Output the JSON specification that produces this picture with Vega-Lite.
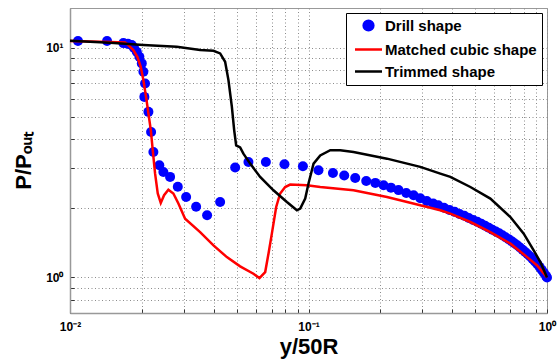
{
  "$schema": "https://vega.github.io/schema/vega-lite/v6.json",
  "width": 477,
  "height": 305,
  "autosize": {"type": "none"},
  "padding": {"left": 70, "top": 8, "right": 13, "bottom": 46},
  "background": "white",
  "datasets": {
    "drill": [
      {"x": 0.0108, "y": 10.7}, {"x": 0.0143, "y": 10.7}, {"x": 0.01674, "y": 10.48}, {"x": 0.0175, "y": 10.4},
      {"x": 0.01815, "y": 10.27}, {"x": 0.01856, "y": 9.97}, {"x": 0.01905, "y": 9.61}, {"x": 0.01954, "y": 9.14},
      {"x": 0.02, "y": 8.55}, {"x": 0.02031, "y": 7.86}, {"x": 0.02064, "y": 6.99}, {"x": 0.0205, "y": 6.11},
      {"x": 0.02132, "y": 5.26}, {"x": 0.02188, "y": 4.3}, {"x": 0.02237, "y": 3.52}, {"x": 0.02369, "y": 3.08},
      {"x": 0.02463, "y": 2.88}, {"x": 0.02628, "y": 2.74}, {"x": 0.02831, "y": 2.48}, {"x": 0.03068, "y": 2.24},
      {"x": 0.03379, "y": 2.03}, {"x": 0.03757, "y": 1.864}, {"x": 0.04261, "y": 2.13}, {"x": 0.04926, "y": 3.01},
      {"x": 0.05599, "y": 3.18}, {"x": 0.06627, "y": 3.18}, {"x": 0.07929, "y": 3.11}, {"x": 0.09474, "y": 3.05},
      {"x": 0.1101, "y": 2.93}, {"x": 0.1266, "y": 2.85}, {"x": 0.1412, "y": 2.78}, {"x": 0.157, "y": 2.71},
      {"x": 0.1746, "y": 2.63}, {"x": 0.1906, "y": 2.58}, {"x": 0.2064, "y": 2.52}, {"x": 0.2217, "y": 2.46},
      {"x": 0.2385, "y": 2.4}, {"x": 0.257, "y": 2.33}, {"x": 0.2758, "y": 2.28}, {"x": 0.2942, "y": 2.21},
      {"x": 0.3133, "y": 2.15}, {"x": 0.3333, "y": 2.1}, {"x": 0.35, "y": 2.06}, {"x": 0.37, "y": 2.01},
      {"x": 0.39, "y": 1.965}, {"x": 0.41, "y": 1.93}, {"x": 0.43, "y": 1.89}, {"x": 0.45, "y": 1.855},
      {"x": 0.47, "y": 1.816}, {"x": 0.49, "y": 1.78}, {"x": 0.51, "y": 1.748}, {"x": 0.53, "y": 1.714},
      {"x": 0.55, "y": 1.68}, {"x": 0.57, "y": 1.646}, {"x": 0.59, "y": 1.614}, {"x": 0.61, "y": 1.585},
      {"x": 0.63, "y": 1.556}, {"x": 0.65, "y": 1.526}, {"x": 0.67, "y": 1.497}, {"x": 0.69, "y": 1.468},
      {"x": 0.71, "y": 1.439}, {"x": 0.73, "y": 1.409}, {"x": 0.75, "y": 1.38}, {"x": 0.77, "y": 1.35},
      {"x": 0.79, "y": 1.32}, {"x": 0.81, "y": 1.291}, {"x": 0.83, "y": 1.262}, {"x": 0.85, "y": 1.233},
      {"x": 0.87, "y": 1.203}, {"x": 0.89, "y": 1.174}, {"x": 0.91, "y": 1.145}, {"x": 0.93, "y": 1.113},
      {"x": 0.95, "y": 1.08}, {"x": 0.97, "y": 1.048}, {"x": 0.99, "y": 1.016}, {"x": 1.0, "y": 1.0}
    ],
    "cubic": [
      {"x": 0.01, "y": 10.7}, {"x": 0.01472, "y": 10.6}, {"x": 0.01702, "y": 10.55}, {"x": 0.01757, "y": 10.27},
      {"x": 0.01843, "y": 9.77}, {"x": 0.01916, "y": 9.14}, {"x": 0.0198, "y": 8.26}, {"x": 0.02031, "y": 7.23},
      {"x": 0.02084, "y": 6.11}, {"x": 0.02132, "y": 5.18}, {"x": 0.02182, "y": 4.38}, {"x": 0.02223, "y": 3.58},
      {"x": 0.02274, "y": 2.83}, {"x": 0.02333, "y": 2.32}, {"x": 0.02402, "y": 2.11}, {"x": 0.0248, "y": 2.28},
      {"x": 0.02585, "y": 2.41}, {"x": 0.02713, "y": 2.32}, {"x": 0.02848, "y": 2.1}, {"x": 0.03038, "y": 1.803},
      {"x": 0.03512, "y": 1.576}, {"x": 0.03995, "y": 1.379}, {"x": 0.04546, "y": 1.226}, {"x": 0.05168, "y": 1.117},
      {"x": 0.05877, "y": 1.038}, {"x": 0.06228, "y": 0.993}, {"x": 0.06583, "y": 1.055}, {"x": 0.06795, "y": 1.269},
      {"x": 0.0702, "y": 1.551}, {"x": 0.0732, "y": 2.026}, {"x": 0.07606, "y": 2.32}, {"x": 0.07983, "y": 2.476},
      {"x": 0.08379, "y": 2.537}, {"x": 0.09847, "y": 2.519}, {"x": 0.112, "y": 2.476}, {"x": 0.1544, "y": 2.395},
      {"x": 0.2133, "y": 2.24}, {"x": 0.2942, "y": 2.061}, {"x": 0.357, "y": 1.96}, {"x": 0.3932, "y": 1.896},
      {"x": 0.4772, "y": 1.743}, {"x": 0.5787, "y": 1.576}, {"x": 0.7022, "y": 1.403}, {"x": 0.8251, "y": 1.226},
      {"x": 0.9089, "y": 1.128}, {"x": 1.0, "y": 1.0}
    ],
    "trim": [
      {"x": 0.01, "y": 10.73}, {"x": 0.01472, "y": 10.51}, {"x": 0.02031, "y": 10.27}, {"x": 0.02804, "y": 10.1},
      {"x": 0.03512, "y": 9.77}, {"x": 0.03995, "y": 9.7}, {"x": 0.04261, "y": 9.45}, {"x": 0.04471, "y": 8.69},
      {"x": 0.04617, "y": 7.23}, {"x": 0.04772, "y": 5.53}, {"x": 0.04879, "y": 4.38}, {"x": 0.04974, "y": 3.76},
      {"x": 0.05168, "y": 3.68}, {"x": 0.05334, "y": 3.46}, {"x": 0.05693, "y": 3.13}, {"x": 0.0627, "y": 2.74},
      {"x": 0.0713, "y": 2.395}, {"x": 0.08116, "y": 2.13}, {"x": 0.08939, "y": 1.96}, {"x": 0.09231, "y": 1.993},
      {"x": 0.09687, "y": 2.204}, {"x": 0.1, "y": 2.563}, {"x": 0.105, "y": 3.13}, {"x": 0.112, "y": 3.4},
      {"x": 0.1234, "y": 3.58}, {"x": 0.1358, "y": 3.58}, {"x": 0.1544, "y": 3.52}, {"x": 0.2133, "y": 3.29},
      {"x": 0.2942, "y": 3.03}, {"x": 0.357, "y": 2.83}, {"x": 0.3932, "y": 2.74}, {"x": 0.4772, "y": 2.476},
      {"x": 0.5787, "y": 2.204}, {"x": 0.7022, "y": 1.832}, {"x": 0.7986, "y": 1.551}, {"x": 0.8794, "y": 1.311},
      {"x": 0.9382, "y": 1.166}, {"x": 1.0, "y": 1.0}
    ]
  },
  "layer": [
    {
      "data": {"name": "drill"},
      "mark": {"type": "point", "filled": true, "size": 100, "opacity": 1, "shape": "circle"},
      "encoding": {
        "x": {"field": "x", "type": "quantitative"},
        "y": {"field": "y", "type": "quantitative"},
        "color": {"datum": "Drill shape", "type": "nominal"}
      }
    },
    {
      "data": {"name": "cubic"},
      "mark": {"type": "line", "strokeWidth": 2.5},
      "encoding": {
        "x": {"field": "x", "type": "quantitative"},
        "y": {"field": "y", "type": "quantitative"},
        "color": {"datum": "Matched cubic shape", "type": "nominal"}
      }
    },
    {
      "data": {"name": "trim"},
      "mark": {"type": "line", "strokeWidth": 2.5},
      "encoding": {
        "x": {"field": "x", "type": "quantitative"},
        "y": {"field": "y", "type": "quantitative"},
        "color": {"datum": "Trimmed shape", "type": "nominal"}
      }
    }
  ],
  "encoding": {
    "x": {
      "field": "x", "type": "quantitative",
      "scale": {"type": "log", "domain": [0.01, 1], "nice": false},
      "axis": {
        "title": "y/50R",
        "values": [0.01, 0.02, 0.03, 0.04, 0.05, 0.06, 0.07, 0.08, 0.09, 0.1, 0.2, 0.3, 0.4, 0.5, 0.6, 0.7, 0.8, 0.9, 1],
        "labelExpr": "datum.value == 0.01 ? '10⁻²' : datum.value == 0.1 ? '10⁻¹' : datum.value == 1 ? '10⁰' : ''",
        "labelOverlap": false, "labelFlush": false, "labelPadding": 12,
        "titleX": 238.5, "titleY": 40, "titleBaseline": "alphabetic"
      }
    },
    "y": {
      "field": "y", "type": "quantitative",
      "scale": {"type": "log", "domain": [0.7, 14.9], "nice": false},
      "axis": {
        "title": "P/Pₒᵤₜ",
        "values": [0.8, 0.9, 1, 2, 3, 4, 5, 6, 7, 8, 9, 10],
        "labelExpr": "datum.value == 1 ? '10⁰' : datum.value == 10 ? '10¹' : ''",
        "labelOverlap": false, "labelFlush": false, "labelPadding": 11,
        "titleX": -40, "titleY": 152.5, "titleBaseline": "alphabetic", "titleAngle": -90
      }
    },
    "color": {
      "type": "nominal",
      "scale": {"domain": ["Drill shape", "Matched cubic shape", "Trimmed shape"], "range": ["#0000ff", "#ff0000", "#000000"]},
      "legend": {
        "title": null,
        "orient": "none", "legendX": 276, "legendY": 5,
        "padding": 5, "rowPadding": 6, "symbolOffset": 10, "labelOffset": 9,
        "strokeColor": "#000000", "fillColor": "#ffffff",
        "encode": {
          "symbols": {
            "update": {
              "shape": {"signal": "datum.value === 'Drill shape' ? 'circle' : 'M-2.77,0H2.77'"},
              "fill": {"signal": "datum.value === 'Drill shape' ? '#0000ff' : 'transparent'"},
              "stroke": {"signal": "datum.value === 'Drill shape' ? 'transparent' : (datum.value === 'Matched cubic shape' ? '#ff0000' : '#000000')"},
              "strokeWidth": {"value": 2.5},
              "size": {"value": 95},
              "opacity": {"value": 1}
            }
          }
        }
      }
    }
  },
  "config": {
    "font": "Liberation Sans",
    "view": {"stroke": "#999999", "strokeWidth": 1},
    "axis": {
      "grid": true, "gridColor": "#8c8c8c", "gridDash": [1, 2.5], "gridWidth": 1,
      "domainColor": "#999999", "domainWidth": 1.5,
      "ticks": true, "tickSize": -4, "tickColor": "#333333", "tickWidth": 1,
      "labelFont": "Liberation Sans", "labelFontSize": 12, "labelFontWeight": "bold", "labelColor": "#000000",
      "titleFont": "Liberation Sans", "titleFontSize": 22, "titleFontWeight": "bold", "titleColor": "#000000"
    },
    "legend": {
      "labelFont": "Liberation Sans", "labelFontSize": 15, "labelFontWeight": "bold", "labelColor": "#000000",
      "symbolSize": 95, "symbolStrokeWidth": 2.5
    }
  }
}
